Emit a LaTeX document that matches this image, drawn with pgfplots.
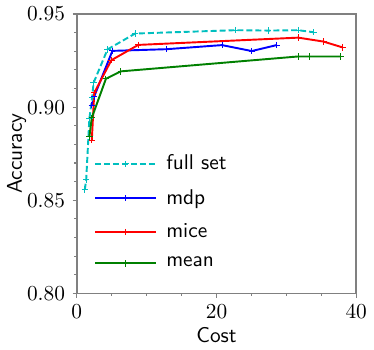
\documentclass[border=0pt]{standalone}
\usepackage{pgfplots}
\pgfplotsset{compat=1.18}
\definecolor{mplcyan}{rgb}{0,0.75,0.75}
\definecolor{mplgreen}{rgb}{0,0.5,0}
\begin{document}
\begin{tikzpicture}
\begin{axis}[
  scale only axis, width=131pt, height=131pt,
  xmin=0, xmax=40, ymin=0.80, ymax=0.95,
  xtick={0,20,40}, minor x tick num=3,
  ytick={0.80,0.85,0.90,0.95}, minor y tick num=4,
  yticklabel style={/pgf/number format/.cd, fixed, fixed zerofill, precision=2},
  tick align=outside, tick pos=left,
  major tick length=2pt, minor tick length=1.2pt,
  axis line style={gray, line width=0.8pt},
  every tick/.style={gray, line width=0.5pt},
  xlabel={\sffamily Cost}, ylabel={\sffamily Accuracy},
  xlabel style={yshift=3pt}, ylabel style={yshift=-6.5pt},
  every axis plot/.append style={line width=0.9pt, mark=+, mark size=1.5pt, mark options={solid, line width=0.5pt}},
  legend cell align=left,
  legend style={draw=none, fill=none, at={(0.045,0.052)}, anchor=south west,
    font=\sffamily, row sep=3.6pt, inner sep=2pt,
    nodes={inner xsep=4.5pt}},
  legend image code/.code={\draw[mark repeat=2,mark phase=2,line width=0.9pt,#1] plot coordinates {(0cm,0cm) (0.5cm,0cm) (1.0cm,0cm)};},
]
\addplot[mplcyan, dash pattern=on 2.8pt off 1.4pt] coordinates {
 (1.15,0.8557) (1.35,0.8612) (1.8,0.8938) (2.2,0.905) (2.4,0.913)
 (4.4,0.931) (8.35,0.9395) (22.7,0.9413) (27.4,0.9411) (31.7,0.9413) (33.9,0.9402)};
\addlegendentry{full set}
\addplot[blue] coordinates {
 (2.15,0.901) (2.5,0.9058) (5.1,0.9302) (12.85,0.9311) (20.8,0.9333)
 (25.05,0.9301) (28.6,0.9333)};
\addlegendentry{mdp}
\addplot[red] coordinates {
 (2.15,0.8822) (2.5,0.9077) (4.95,0.9252) (8.8,0.9334) (31.7,0.9373)
 (35.3,0.9352) (38.1,0.932)};
\addlegendentry{mice}
\addplot[mplgreen] coordinates {
 (1.8,0.884) (2.15,0.8943) (4.17,0.9152) (6.3,0.9192) (31.7,0.9272)
 (33.3,0.9272) (37.8,0.9272)};
\addlegendentry{mean}
\end{axis}
\end{tikzpicture}
\end{document}
